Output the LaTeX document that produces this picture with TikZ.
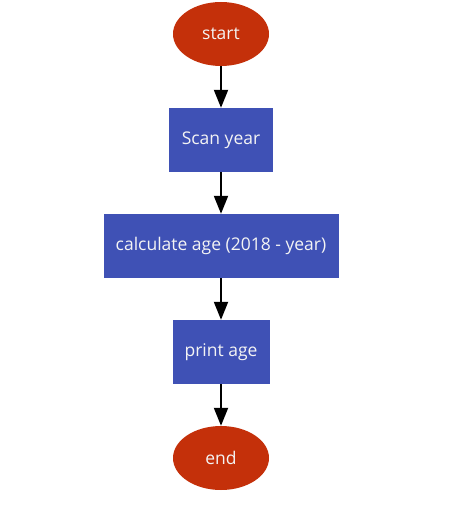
\documentclass[tikz,border=0pt]{standalone}
\usepackage{fontspec}
\setmainfont{Open Sans}
\usetikzlibrary{shapes.geometric,arrows.meta}
\definecolor{termred}{HTML}{C4300A}
\definecolor{procblue}{HTML}{3F51B5}
\definecolor{txtwhite}{HTML}{F4F4F4}
\tikzset{
  term/.style={ellipse, fill=termred, draw=none, minimum width=96pt, minimum height=64pt, inner sep=0pt, text=txtwhite, font=\fontsize{17.5}{21}\selectfont},
  proc/.style={rectangle, fill=procblue, draw=none, minimum height=64pt, inner sep=0pt, text=txtwhite, font=\fontsize{17.5}{21}\selectfont},
  flow/.style={draw=black, line width=2pt, -{Triangle[width=14pt,length=18pt]}}
}
\begin{document}
\begin{tikzpicture}[x=1pt,y=-1pt]
\useasboundingbox (0,0) rectangle (453,513);
\node[term] (start) at (221,34) {start};
\node[proc, minimum width=104pt] (scan) at (221,140) {Scan year};
\node[proc, minimum width=235pt] (calc) at (221,246) {calculate age (2018 - year)};
\node[proc, minimum width=97pt] (print) at (221,352) {print age};
\node[term] (end) at (221,458) {end};
\draw[flow] (start) -- (scan);
\draw[flow] (scan) -- (calc);
\draw[flow] (calc) -- (print);
\draw[flow] (print) -- (end);
\end{tikzpicture}
\end{document}
